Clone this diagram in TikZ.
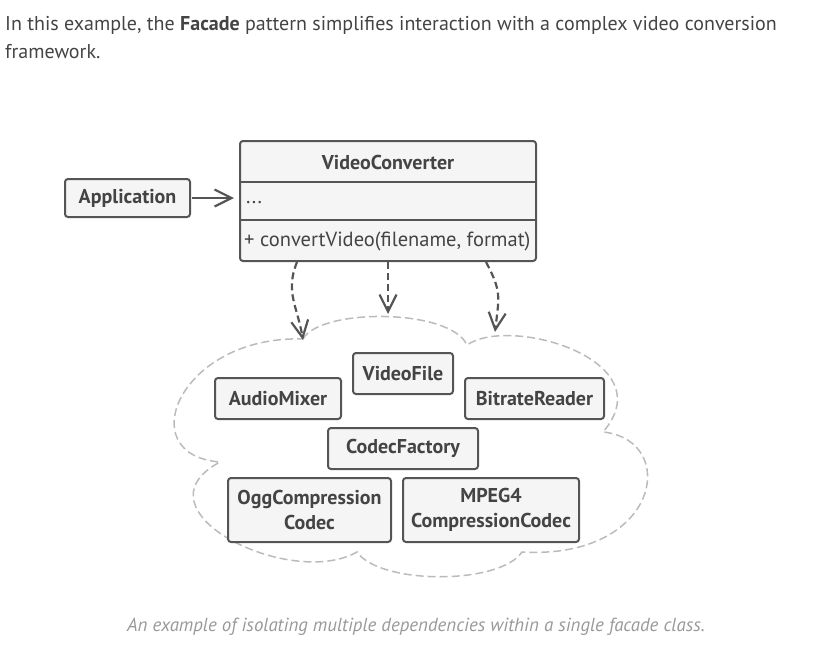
\documentclass[tikz,border=0pt]{standalone}
\usepackage{fontspec}
\setmainfont{PT Sans}
\usetikzlibrary{arrows.meta}
\definecolor{ink}{HTML}{444444}
\definecolor{edge}{HTML}{555555}
\definecolor{boxfill}{HTML}{F5F5F5}
\definecolor{cloudline}{HTML}{BBBBBB}
\definecolor{caption}{HTML}{999999}
\begin{document}
\begin{tikzpicture}[x=1pt, y=-1pt,
    cls/.style = {draw=edge, fill=boxfill, line width=2pt, rounded corners=3pt,
                  text=ink, font=\bfseries\fontsize{20}{25}\selectfont, align=center,
                  inner sep=0pt},
    member/.style = {text=ink, font=\fontsize{20.5}{25}\selectfont, inner sep=0pt},
    arrow/.style = {draw=edge, line width=2.2pt, -{Straight Barb[length=17pt,width=17pt]}},
    dep/.style = {arrow, dash pattern=on 7pt off 4pt}]
    \useasboundingbox (0,0) rectangle (840,661);

    % intro text
    \node[anchor=base west, inner sep=0pt, text=ink, font=\fontsize{20}{28}\selectfont] (intro1) at (5,31)
        {In this example, the \textbf{Facade} pattern simplifies interaction with a complex video conversion};
    \node[anchor=base west, inner sep=0pt, text=ink, font=\fontsize{20}{28}\selectfont] (intro2) at (5,59)
        {framework.};

    % the facade
    \node[cls, minimum width=296pt, minimum height=120pt] (conv) at (388,201) {};
    \draw[edge, line width=2pt] (240,182) -- (536,182);
    \draw[edge, line width=2pt] (240,220) -- (536,220);
    \node[member, font=\bfseries\fontsize{20}{25}\selectfont] (convname) at (388,162) {VideoConverter};
    \node[member, anchor=west] (convfields) at (246,203) {...};
    \node[member, anchor=west] (convops) at (244,241) {+ convertVideo(filename, format)};

    \node[cls, minimum width=125pt, minimum height=38pt] (app) at (127.5,198) {Application};
    \draw[arrow] ([xshift=1pt]app.east) -- ([xshift=-5pt]conv.west |- app.east);

    % the subsystem cloud
    \coordinate (notchA) at (303,340);
    \coordinate (cloudtop) at (388,314);
    \coordinate (notchC) at (495,332);
    \draw[cloudline, line width=1.5pt, dash pattern=on 8pt off 4pt]
        (303,339) .. controls (320,308) and (450,308) .. (467,345)
        .. controls (510,315) and (665,360) .. (603,432)
        .. controls (680,440) and (660,560) .. (522,552)
        .. controls (500,585) and (380,585) .. (357,552)
        .. controls (290,590) and (130,510) .. (220,462)
        .. controls (130,455) and (180,335) .. cycle;

    \node[cls, minimum width=100pt, minimum height=41pt] (videofile) at (403,373.5) {VideoFile};
    \node[cls, minimum width=126pt, minimum height=41pt] (mixer) at (278,398.5) {AudioMixer};
    \node[cls, minimum width=139pt, minimum height=41pt] (bitrate) at (534.5,398.5) {BitrateReader};
    \node[cls, minimum width=150pt, minimum height=41pt] (factory) at (403,448.5) {CodecFactory};
    \node[cls, minimum width=163pt, minimum height=64pt] (ogg) at (309.5,510) {OggCompression\\Codec};
    \node[cls, minimum width=176pt, minimum height=64pt] (mpeg) at (491,510) {MPEG4\\CompressionCodec};

    % dependencies
    \draw[dep] ([xshift=-91pt]conv.south) .. controls +(-12,30) and +(-6,-35) .. (notchA);
    \draw[dep] (conv.south) -- (cloudtop);
    \draw[dep] ([xshift=98pt]conv.south) .. controls +(16,30) and +(4,-35) .. (notchC);

    \node[text=caption, font=\itshape\fontsize{18.9}{22}\selectfont] (note) at (416,627)
        {An example of isolating multiple dependencies within a single facade class.};
\end{tikzpicture}
\end{document}
